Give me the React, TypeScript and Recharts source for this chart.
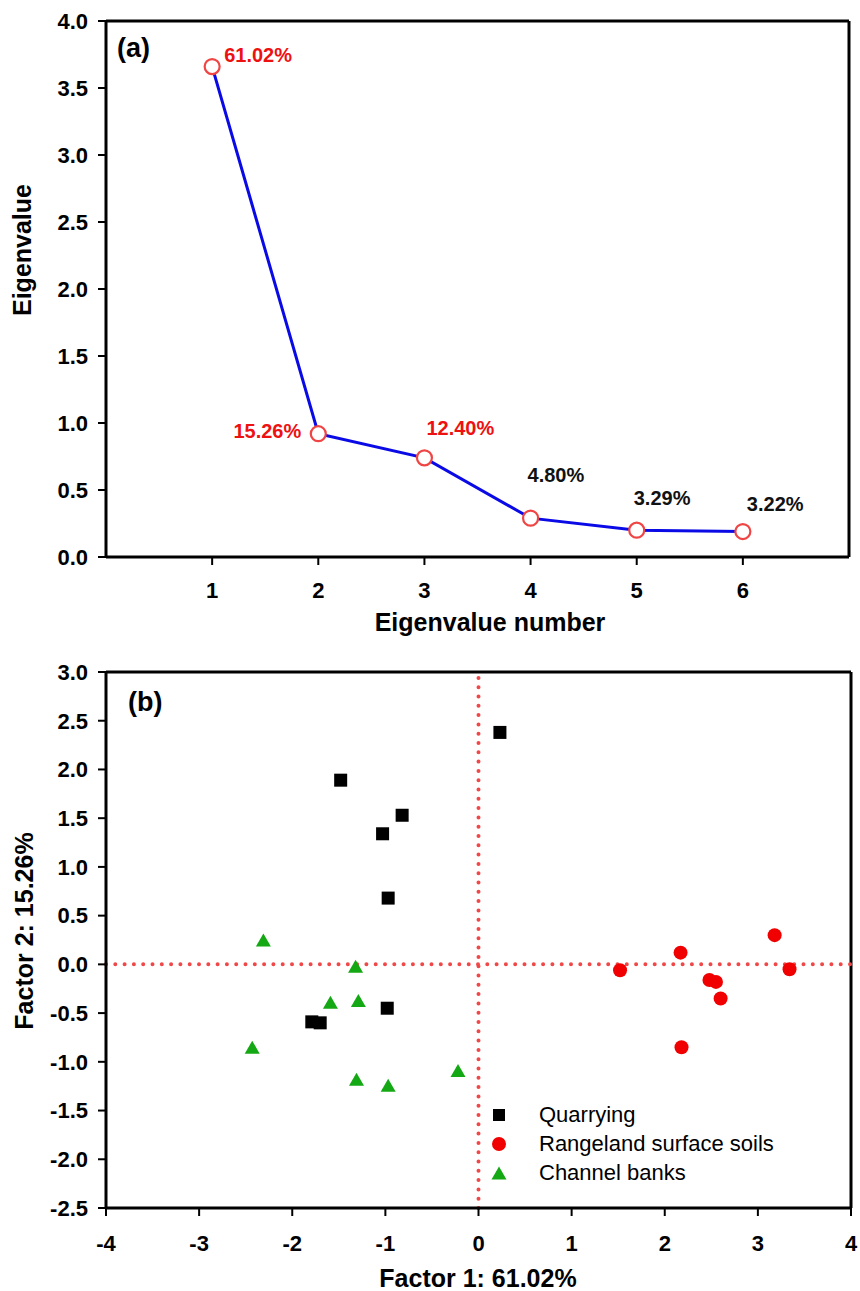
import React from 'react';
import {
  LineChart, Line, ScatterChart, Scatter, XAxis, YAxis, ReferenceLine, LabelList, Legend,
} from 'recharts';

const FONT = '"Liberation Sans", Arial, Helvetica, sans-serif';

// ---- Panel (a) data ----
const eigenNumbers = [1, 2, 3, 4, 5, 6];
const eigenValues = [3.66, 0.92, 0.74, 0.29, 0.2, 0.19];
const eigenPct = ['61.02%', '15.26%', '12.40%', '4.80%', '3.29%', '3.22%'];
const eigenYTicks = [0, 0.5, 1, 1.5, 2, 2.5, 3, 3.5, 4];
const eigenXTicks = [1, 2, 3, 4, 5, 6];

// ---- Panel (b) data ----
const seriesNames = ['Quarrying', 'Rangeland surface soils', 'Channel banks'];
const quarryingX = [0.23, -1.48, -0.82, -1.03, -0.97, -0.98, -1.79, -1.7];
const quarryingY = [2.38, 1.89, 1.53, 1.34, 0.68, -0.45, -0.59, -0.6];
const rangelandX = [3.18, 2.17, 1.52, 3.34, 2.48, 2.55, 2.6, 2.18];
const rangelandY = [0.3, 0.12, -0.06, -0.05, -0.16, -0.18, -0.35, -0.85];
const channelX = [-2.31, -1.32, -1.59, -1.29, -2.43, -1.31, -0.97, -0.22];
const channelY = [0.25, -0.02, -0.39, -0.37, -0.85, -1.18, -1.24, -1.09];
const factorXTicks = [-4, -3, -2, -1, 0, 1, 2, 3, 4];
const factorYTicks = [-2.5, -2, -1.5, -1, -0.5, 0, 0.5, 1, 1.5, 2, 2.5, 3];

// ---- styling tables ----
const pctColors = ['#ee1111', '#ee1111', '#ee1111', '#111111', '#111111', '#111111'];
const pctPlacement = [
  { dx: 12, dy: -5, anchor: 'start' },
  { dx: -17, dy: 4, anchor: 'end' },
  { dx: 2, dy: -23, anchor: 'start' },
  { dx: -3, dy: -36, anchor: 'start' },
  { dx: -3, dy: -25, anchor: 'start' },
  { dx: 4, dy: -21, anchor: 'start' },
];

const eigenData = eigenNumbers.map((n, i) => ({ n, v: eigenValues[i], pct: eigenPct[i] }));
const zip = (xs: number[], ys: number[]) => xs.map((x, i) => ({ x, y: ys[i] }));
const quarryingData = zip(quarryingX, quarryingY);
const rangelandData = zip(rangelandX, rangelandY);
const channelData = zip(channelX, channelY);

const tickStyle = { fill: '#000', fontSize: 22, fontWeight: 'bold', fontFamily: FONT };
const axisLineStyle = { stroke: '#000', strokeWidth: 3 };
const tickLineStyle = { stroke: '#000', strokeWidth: 2 };

const GREEN = '#14a814';
const RED = '#f00000';

const titleText = (s: string, x: number, y: number, rotate = false) => (
  <text
    x={x}
    y={y}
    textAnchor="middle"
    transform={rotate ? `rotate(-90, ${x}, ${y})` : undefined}
    style={{ fontFamily: FONT, fontSize: 25, fontWeight: 'bold', fill: '#000' }}
  >
    {s}
  </text>
);

const panelText = (s: string, x: number, y: number) => (
  <text x={x} y={y} style={{ fontFamily: FONT, fontSize: 27, fontWeight: 'bold', fill: '#000' }}>
    {s}
  </text>
);

const renderPct = (props: any) => {
  const { x, y, index, value } = props;
  const p = pctPlacement[index];
  return (
    <text
      x={x + p.dx}
      y={y + p.dy}
      textAnchor={p.anchor}
      style={{ fontFamily: FONT, fontSize: 20, fontWeight: 'bold', fill: pctColors[index] }}
    >
      {value}
    </text>
  );
};

const OpenCircle = (props: any) => {
  const { cx, cy } = props;
  return <circle cx={cx} cy={cy} r={7.5} fill="#fff" stroke="#f04545" strokeWidth={2.2} />;
};

const SquareShape = (props: any) => {
  const { cx, cy } = props;
  return <rect x={cx - 6.5} y={cy - 6.5} width={13} height={13} fill="#000" />;
};
const CircleShape = (props: any) => {
  const { cx, cy } = props;
  return <circle cx={cx} cy={cy} r={7} fill={RED} />;
};
const TriangleShape = (props: any) => {
  const { cx, cy } = props;
  return (
    <polygon
      points={`${cx},${cy - 6.5} ${cx + 7.5},${cy + 6.5} ${cx - 7.5},${cy + 6.5}`}
      fill={GREEN}
    />
  );
};

const legendMarkers = [
  <rect key="s" x={4} y={4} width={12} height={12} fill="#000" />,
  <circle key="c" cx={10} cy={10} r={7} fill={RED} />,
  <polygon key="t" points="10,3.5 17.5,16.5 2.5,16.5" fill={GREEN} />,
];

const renderLegend = () => (
  <div style={{ fontFamily: FONT, fontSize: 22, color: '#000' }}>
    {seriesNames.map((name, i) => (
      <div key={name} style={{ display: 'flex', alignItems: 'center', height: 29, whiteSpace: 'nowrap' }}>
        <svg width={20} height={20} style={{ flex: 'none' }}>
          {legendMarkers[i]}
        </svg>
        <span style={{ marginLeft: 30 }}>{name}</span>
      </div>
    ))}
  </div>
);

const fmt1 = (v: number) => v.toFixed(1);

export default function App() {
  return (
    <div style={{ position: 'absolute', left: 0, top: 0, width: 860, height: 1291, background: '#fff' }}>
      <LineChart
        width={860}
        height={645}
        data={eigenData}
        margin={{ top: 21, right: 11, left: 6, bottom: 0 }}
      >
        <XAxis
          type="number"
          dataKey="n"
          domain={[0, 7]}
          ticks={eigenXTicks}
          height={88}
          tick={tickStyle}
          tickSize={8}
          tickMargin={17}
          axisLine={axisLineStyle}
          tickLine={tickLineStyle}
          label={{ content: () => titleText('Eigenvalue number', 490, 631) }}
        />
        <YAxis
          type="number"
          domain={[0, 4]}
          ticks={eigenYTicks}
          width={100}
          tick={tickStyle}
          tickSize={8}
          tickMargin={10}
          tickFormatter={fmt1}
          axisLine={axisLineStyle}
          tickLine={tickLineStyle}
          label={{
            content: () => (
              <g>
                {titleText('Eigenvalue', 31, 250, true)}
                {panelText('(a)', 117, 57)}
              </g>
            ),
          }}
        />
        <ReferenceLine y={4} stroke="#000" strokeWidth={3} />
        <ReferenceLine x={7} stroke="#000" strokeWidth={3} />
        <Line
          dataKey="v"
          stroke="#0a0ae6"
          strokeWidth={3}
          dot={<OpenCircle />}
          activeDot={false}
          isAnimationActive={false}
        >
          <LabelList dataKey="pct" content={renderPct} />
        </Line>
      </LineChart>

      <ScatterChart
        width={860}
        height={646}
        margin={{ top: 27, right: 9, left: 6, bottom: 0 }}
      >
        <XAxis
          type="number"
          dataKey="x"
          domain={[-4, 4]}
          ticks={factorXTicks}
          height={83}
          tick={tickStyle}
          tickSize={8}
          tickMargin={19}
          axisLine={axisLineStyle}
          tickLine={tickLineStyle}
          label={{ content: () => titleText('Factor 1: 61.02%', 478, 642) }}
        />
        <YAxis
          type="number"
          dataKey="y"
          domain={[-2.5, 3]}
          ticks={factorYTicks}
          width={100}
          tick={tickStyle}
          tickSize={8}
          tickMargin={10}
          tickFormatter={fmt1}
          axisLine={axisLineStyle}
          tickLine={tickLineStyle}
          label={{
            content: () => (
              <g>
                {titleText('Factor 2:  15.26%', 33, 286, true)}
                {panelText('(b)', 128, 66)}
              </g>
            ),
          }}
        />
        <ReferenceLine y={3} stroke="#000" strokeWidth={3} />
        <ReferenceLine x={4} stroke="#000" strokeWidth={3} />
        <ReferenceLine
          y={0}
          stroke="#f04848"
          strokeWidth={4}
          strokeDasharray="0 9.3"
          strokeLinecap="round"
        />
        <ReferenceLine
          x={0}
          stroke="#f04848"
          strokeWidth={4}
          strokeDasharray="0 9.3"
          strokeLinecap="round"
        />
        <Scatter name={seriesNames[0]} data={quarryingData} shape={<SquareShape />} isAnimationActive={false} />
        <Scatter name={seriesNames[1]} data={rangelandData} shape={<CircleShape />} isAnimationActive={false} />
        <Scatter name={seriesNames[2]} data={channelData} shape={<TriangleShape />} isAnimationActive={false} />
        <Legend
          layout="vertical"
          align="center"
          verticalAlign="middle"
          content={renderLegend}
          wrapperStyle={{ left: 489, top: 455, width: 320, height: 90 }}
        />
      </ScatterChart>
    </div>
  );
}
